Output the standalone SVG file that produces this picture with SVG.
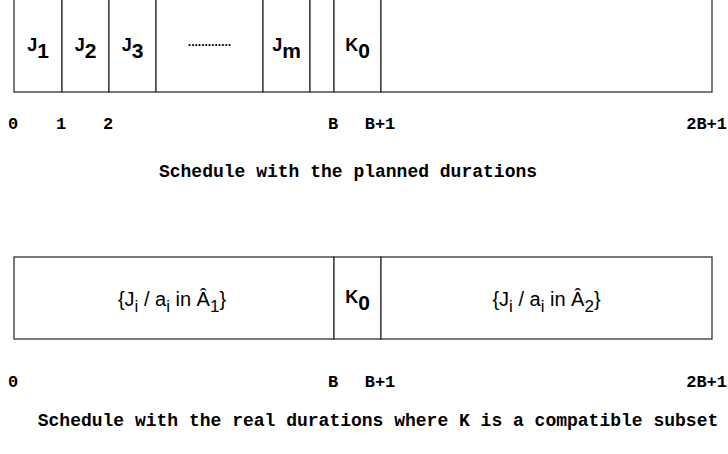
<svg xmlns="http://www.w3.org/2000/svg" width="728" height="454" viewBox="0 0 728 454">
<style>
.box{fill:#fff;stroke:#333;stroke-width:1.3}
.lbl{font-family:"Liberation Sans",Arial,sans-serif;font-weight:bold;fill:#000}
.main{font-size:18px}
.sub{font-size:21px}
.set{font-family:"Liberation Sans",Arial,sans-serif;font-size:20px;fill:#000}
.ssub{font-size:17px}
.tick{font-family:"Liberation Mono","Courier New",monospace;font-weight:bold;font-size:17px;fill:#000}
.cap{font-family:"Liberation Mono","Courier New",monospace;font-weight:bold;font-size:18px;fill:#000}
</style>
<rect width="728" height="454" fill="#fff"/>
<g id="planned">
<g id="j1"><rect class="box" x="14" y="-10" width="48" height="102"/><text class="lbl" x="38" y="51" text-anchor="middle"><tspan class="main">J</tspan><tspan class="sub" dy="7">1</tspan></text></g>
<g id="j2"><rect class="box" x="62" y="-10" width="47" height="102"/><text class="lbl" x="85.5" y="51" text-anchor="middle"><tspan class="main">J</tspan><tspan class="sub" dy="7">2</tspan></text></g>
<g id="j3"><rect class="box" x="109" y="-10" width="47" height="102"/><text class="lbl" x="132.5" y="51" text-anchor="middle"><tspan class="main">J</tspan><tspan class="sub" dy="7">3</tspan></text></g>
<g id="dots"><rect class="box" x="156" y="-10" width="107" height="102"/><text class="lbl" x="209.5" y="46" text-anchor="middle" font-size="12">.............</text></g>
<g id="jm"><rect class="box" x="263" y="-10" width="47" height="102"/><text class="lbl" x="286.5" y="51" text-anchor="middle"><tspan class="main">J</tspan><tspan class="sub" dy="7">m</tspan></text></g>
<g id="gap"><rect class="box" x="310" y="-10" width="24" height="102"/></g>
<g id="k0"><rect class="box" x="334" y="-10" width="47" height="102"/><text class="lbl" x="357.5" y="51" text-anchor="middle"><tspan class="main">K</tspan><tspan class="sub" dy="7">0</tspan></text></g>
<g id="rest"><rect class="box" x="381" y="-10" width="331" height="102"/></g>
</g>
<g id="ticks-top">
<text class="tick" x="13" y="129" text-anchor="middle">0</text>
<text class="tick" x="61" y="129" text-anchor="middle">1</text>
<text class="tick" x="108" y="129" text-anchor="middle">2</text>
<text class="tick" x="333" y="129" text-anchor="middle">B</text>
<text class="tick" x="380" y="129" text-anchor="middle">B+1</text>
<text class="tick" x="727" y="129" text-anchor="end">2B+1</text>
</g>
<text class="cap" x="348" y="177" text-anchor="middle">Schedule with the planned durations</text>
<g id="real">
<g id="a1"><rect class="box" x="14" y="257" width="320" height="82"/><text class="set" x="172" y="306" text-anchor="middle">{J<tspan class="ssub" dy="6">i</tspan><tspan dy="-6"> / a</tspan><tspan class="ssub" dy="6">i</tspan><tspan dy="-6"> in Â</tspan><tspan class="ssub" dy="6">1</tspan><tspan dy="-6">}</tspan></text></g>
<g id="k0b"><rect class="box" x="334" y="257" width="47" height="82"/><text class="lbl" x="357.5" y="303" text-anchor="middle"><tspan class="main">K</tspan><tspan class="sub" dy="7">0</tspan></text></g>
<g id="a2"><rect class="box" x="381" y="257" width="331" height="82"/><text class="set" x="546.5" y="306" text-anchor="middle">{J<tspan class="ssub" dy="6">i</tspan><tspan dy="-6"> / a</tspan><tspan class="ssub" dy="6">i</tspan><tspan dy="-6"> in Â</tspan><tspan class="ssub" dy="6">2</tspan><tspan dy="-6">}</tspan></text></g>
</g>
<g id="ticks-bottom">
<text class="tick" x="13" y="387" text-anchor="middle">0</text>
<text class="tick" x="333" y="387" text-anchor="middle">B</text>
<text class="tick" x="380" y="387" text-anchor="middle">B+1</text>
<text class="tick" x="727" y="387" text-anchor="end">2B+1</text>
</g>
<text class="cap" x="378" y="426" text-anchor="middle">Schedule with the real durations where K is a compatible subset</text>
</svg>
